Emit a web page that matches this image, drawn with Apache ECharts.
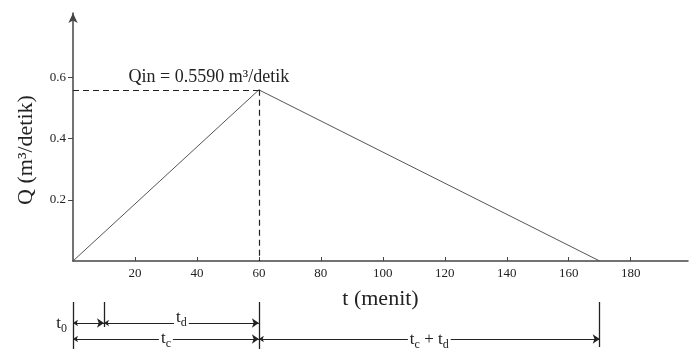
<!DOCTYPE html>
<html>
<head>
<meta charset="utf-8">
<script src="https://cdn.jsdelivr.net/npm/echarts@6/dist/echarts.min.js"></script>
<style>
html, body { margin: 0; padding: 0; background: #fff; }
#chart { width: 689px; height: 349px; }
</style>
</head>
<body>
<div id="chart"></div>
<script>
// triangular inflow hydrograph
var times = [0, 60, 170];
var flows = [0, 0.559, 0];
var qPeak = 0.559;
var tPeak = 60;
var xTicks = [20, 40, 60, 80, 100, 120, 140, 160, 180];
var yTicks = [0.2, 0.4, 0.6];
// t = 0, t0, tc, tc + td
var tMarks = [0, 10, 60, 170];

var serif = '"Liberation Serif", "Times New Roman", serif';
var ink = '#222';
var xMax = 198.5;

var chart = echarts.init(document.getElementById('chart'));

var lineData = times.map(function (t, i) {
  return [t, flows[i]];
});

// sub/superscript text for the dimension labels
var rich = {
  m: { fontFamily: serif, fontSize: 17, color: '#222' },
  s: { fontFamily: serif, fontSize: 12, color: '#222', padding: [10, 0, 0, 0] }
};
function dimLabel(txt, pos, dy) {
  return {
    show: true,
    position: pos,
    distance: pos === 'start' ? 4 : 0,
    offset: [0, dy],
    formatter: txt,
    backgroundColor: pos === 'start' ? 'transparent' : '#fff',
    padding: [0, 2],
    rich: rich
  };
}

// lower strip: rows measured in px from its top
var rowTop = 7, row1 = 28, row2 = 44;
var bars = [
  { coords: [[tMarks[0], rowTop], [tMarks[0], 54]] },
  { coords: [[tMarks[1], rowTop], [tMarks[1], 32]] },
  { coords: [[tMarks[2], rowTop], [tMarks[2], 54]] },
  { coords: [[tMarks[3], rowTop], [tMarks[3], 52]] }
];
var dims = [
  { coords: [[tMarks[0], row1], [tMarks[1], row1]], label: dimLabel('{m|t}{s|0}', 'start', 1) },
  { coords: [[tMarks[1], row1], [tMarks[2], row1]], label: dimLabel('{m|t}{s|d}', 'middle', 6) },
  { coords: [[tMarks[0], row2], [tMarks[2], row2]], label: dimLabel('{m|t}{s|c}', 'middle', 11) },
  { coords: [[tMarks[2], row2], [tMarks[3], row2]], label: dimLabel('{m|t}{s|c}{m| + t}{s|d}', 'middle', 12) }
];

var option = {
  animation: false,
  backgroundColor: '#fff',
  grid: [
    { left: 73, right: 1, top: 13, bottom: 88 },
    { left: 73, right: 1, top: 295, height: 54 }
  ],
  xAxis: [
    {
      type: 'value',
      min: 0,
      max: xMax,
      interval: 20,
      name: 't (menit)',
      nameLocation: 'middle',
      nameGap: 27,
      nameTextStyle: { fontFamily: serif, fontSize: 22, color: '#222' },
      axisLine: { lineStyle: { color: '#444', width: 1.5 } },
      axisTick: { inside: true, length: 4, customValues: xTicks, lineStyle: { color: '#444' } },
      axisLabel: { customValues: xTicks, fontFamily: serif, fontSize: 13, color: ink, margin: 6 },
      splitLine: { show: false }
    },
    { gridIndex: 1, type: 'value', min: 0, max: xMax, show: false }
  ],
  yAxis: [
    {
      type: 'value',
      min: 0,
      max: 0.81,
      interval: 0.2,
      name: 'Q (m³/detik)',
      nameLocation: 'middle',
      nameRotate: 90,
      nameGap: 36,
      nameTextStyle: { fontFamily: serif, fontSize: 22, color: '#222', padding: [0, 26, 0, 0] },
      axisLine: { show: true, symbol: ['none', 'arrow'], symbolSize: [7, 10], lineStyle: { color: '#444', width: 1.5 } },
      axisTick: { show: true, length: 5, customValues: yTicks, lineStyle: { color: '#444' } },
      axisLabel: { customValues: yTicks, fontFamily: serif, fontSize: 13, color: ink, margin: 7 },
      splitLine: { show: false }
    },
    { gridIndex: 1, type: 'value', min: 0, max: 54, inverse: true, show: false }
  ],
  series: [
    {
      type: 'line',
      data: lineData,
      symbol: 'none',
      lineStyle: { color: '#555', width: 1 },
      markLine: {
        silent: true,
        symbol: 'none',
        label: { show: false },
        lineStyle: { type: [6, 4], color: '#222', width: 1.2 },
        data: [
          [{ coord: [0, qPeak] }, { coord: [tPeak, qPeak] }],
          [{ coord: [tPeak, qPeak] }, { coord: [tPeak, 0] }]
        ]
      },
      markPoint: {
        silent: true,
        symbol: 'circle',
        symbolSize: 0,
        label: {
          show: true,
          position: 'top',
          distance: 4,
          offset: [-50, 0],
          formatter: 'Qin = ' + qPeak.toFixed(4) + ' m³/detik',
          fontFamily: serif,
          fontSize: 18,
          color: '#222'
        },
        data: [{ coord: [tPeak, qPeak] }]
      }
    },
    {
      type: 'lines',
      coordinateSystem: 'cartesian2d',
      xAxisIndex: 1,
      yAxisIndex: 1,
      clip: false,
      symbol: 'none',
      lineStyle: { color: '#222', width: 1.3, opacity: 1 },
      data: bars
    },
    {
      type: 'lines',
      coordinateSystem: 'cartesian2d',
      xAxisIndex: 1,
      yAxisIndex: 1,
      clip: false,
      symbol: ['arrow', 'arrow'],
      symbolSize: [5, 7],
      lineStyle: { color: '#222', width: 1, opacity: 1 },
      data: dims
    }
  ]
};

chart.setOption(option);
</script>
</body>
</html>
